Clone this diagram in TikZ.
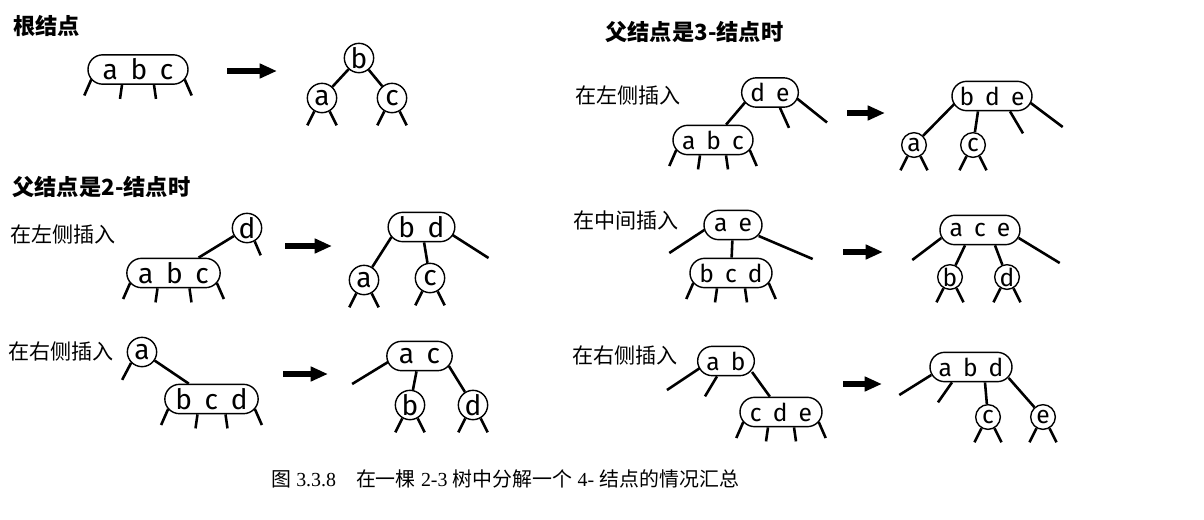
\documentclass[tikz,border=0pt]{standalone}
\usepackage{fontspec}
\setmainfont{Fira Sans}
\newfontfamily\cjk{Noto Sans CJK SC}
\newfontfamily\capserif{Liberation Serif}
\usepackage{tikz}
\usetikzlibrary{positioning, arrows.meta, calc}
\newcommand{\keysep}{\hspace{0.45em}}
\newcommand{\pilllegs}[2]{%
  \draw[treeedge] ($(#1.west)+(4,10)$) -- ++(-7,16);
  \draw[treeedge] ($(#1.south)+(-#2,0)$) -- ++(-2,14);
  \draw[treeedge] ($(#1.south)+(#2,0)$) -- ++(2,14);
  \draw[treeedge] ($(#1.east)+(-4,10)$) -- ++(7,16);
}
\newcommand{\circlegs}[1]{%
  \draw[treeedge] (#1.240) -- ++(-7,14);
  \draw[treeedge] (#1.300) -- ++(7,14);
}
\tikzset{
  keypill/.style={
    rectangle,
    draw,
    rounded corners=0.22cm,
    line width=0.6pt,
    minimum height=0.44cm,
    inner xsep=2pt,
    inner ysep=0pt,
    font=\fontsize{12}{13}\selectfont
  },
  keycircle/.style={
    circle,
    draw,
    line width=0.6pt,
    minimum size=0.44cm,
    inner sep=0pt,
    font=\fontsize{12}{13}\selectfont
  },
  treeedge/.style={
    line width=1.1pt
  },
  splitarrow/.style={
    line width=2.5pt,
    -{Triangle[length=0.26cm, width=0.21cm]}
  },
  caselabel/.style={
    anchor=west,
    inner sep=0pt,
    font=\cjk\fontsize{9}{10}\selectfont
  },
  grouptitle/.style={
    anchor=west,
    inner sep=0pt,
    font=\cjk\bfseries\fontsize{9.5}{10}\selectfont
  },
  figcaption/.style={
    inner sep=0pt,
    font=\fontsize{8.5}{10}\selectfont
  }
}

\begin{document}
\begin{tikzpicture}[x=0.015cm, y=-0.015cm]
  \useasboundingbox (0,0) rectangle (1204,519);

  \node[grouptitle] (roottitle) at (13,26) {根结点};
  \node[grouptitle] (twotitle) at (12,187) {父结点是2-结点时};
  \node[caselabel] (twoLlabel) at (10,234) {在左侧插入};
  \node[caselabel] (twoRlabel) at (8,351) {在右侧插入};
  \node[grouptitle] (threetitle) at (605,32) {父结点是3-结点时};
  \node[caselabel] (threeLlabel) at (575,95) {在左侧插入};
  \node[caselabel] (threeMlabel) at (573,220) {在中间插入};
  \node[caselabel] (threeRlabel) at (572,355) {在右侧插入};

  % root
  \node[keypill, minimum width=1.5cm] (root-abc) at (138,69.5) {a\keysep b\keysep c};
  \pilllegs{root-abc}{16}
  \coordinate (root-from) at (227,71);
  \coordinate (root-to) at (277,71);
  \draw[splitarrow] (root-from) -- (root-to);
  \node[keycircle] (root-b) at (359,58) {b};
  \node[keycircle] (root-a) at (322,98) {a};
  \node[keycircle] (root-c) at (392,98) {c};
  \draw[treeedge] (root-b) -- (root-a);
  \draw[treeedge] (root-b) -- (root-c);
  \circlegs{root-a}
  \circlegs{root-c}

  % 2-node parent, left
  \node[keycircle] (twoL-d) at (247,228) {d};
  \draw[treeedge] (twoL-d.300) -- ++(6,14);
  \node[keypill, minimum width=1.4cm] (twoL-abc) at (173.5,273) {a\keysep b\keysep c};
  \draw[treeedge] (twoL-d) -- (twoL-abc);
  \pilllegs{twoL-abc}{16}
  \coordinate (twoL-from) at (285,246);
  \coordinate (twoL-to) at (332,246);
  \draw[splitarrow] (twoL-from) -- (twoL-to);
  \node[keypill, minimum width=1cm] (twoL-bd) at (421.5,227) {b\keysep d};
  \node[keycircle] (twoL-a) at (364,280) {a};
  \node[keycircle] (twoL-c) at (430,278) {c};
  \draw[treeedge] ($(twoL-bd.west)+(4,10)$) -- (twoL-a);
  \draw[treeedge] (twoL-bd) -- (twoL-c);
  \draw[treeedge] ($(twoL-bd.east)+(-3,8)$) -- ++(36,23);
  \circlegs{twoL-a}
  \circlegs{twoL-c}

  % 2-node parent, right
  \node[keycircle] (twoR-a) at (142,352) {a};
  \draw[treeedge] (twoR-a.225) -- ++(-9,17);
  \node[keypill, minimum width=1.4cm] (twoR-bcd) at (211.5,399) {b\keysep c\keysep d};
  \draw[treeedge] (twoR-a) -- (twoR-bcd);
  \pilllegs{twoR-bcd}{14}
  \coordinate (twoR-from) at (283,374);
  \coordinate (twoR-to) at (328,374);
  \draw[splitarrow] (twoR-from) -- (twoR-to);
  \node[keypill, minimum width=0.98cm] (twoR-ac) at (419.5,356) {a\keysep c};
  \node[keycircle] (twoR-b) at (410,405) {b};
  \node[keycircle] (twoR-d) at (473,405) {d};
  \draw[treeedge] ($(twoR-ac.west)+(2,6)$) -- ++(-36,22);
  \draw[treeedge] (twoR-ac) -- (twoR-b);
  \draw[treeedge] ($(twoR-ac.east)+(-4,10)$) -- (twoR-d);
  \circlegs{twoR-b}
  \circlegs{twoR-d}

  \begin{scope}[
    keypill/.append style={font=\fontsize{10.5}{12}\selectfont},
    keycircle/.append style={minimum size=0.37cm, font=\fontsize{10.5}{12}\selectfont}
  ]
  % 3-node parent, left
  \node[keypill, minimum width=0.85cm] (threeL-de) at (770,92.5) {d\keysep e};
  \node[keypill, minimum width=1.2cm] (threeL-abc) at (713,140) {a\keysep b\keysep c};
  \draw[treeedge] ($(threeL-de.west)+(4,10)$) -- (threeL-abc);
  \draw[treeedge] ($(threeL-de.south)+(10,0)$) -- ++(9,20);
  \draw[treeedge] ($(threeL-de.east)+(-2,6)$) -- ++(30,24);
  \pilllegs{threeL-abc}{13}
  \coordinate (threeL-from) at (847,113);
  \coordinate (threeL-to) at (885,113);
  \draw[splitarrow] (threeL-from) -- (threeL-to);
  \node[keypill, minimum width=1.2cm] (threeL-bde) at (992,96) {b\keysep d\keysep e};
  \node[keycircle] (threeL-a) at (914,145) {a};
  \node[keycircle] (threeL-c) at (973,145) {c};
  \draw[treeedge] ($(threeL-bde.west)+(3,8)$) -- (threeL-a);
  \draw[treeedge] ($(threeL-bde.south)+(-14,0)$) -- (threeL-c);
  \draw[treeedge] ($(threeL-bde.south)+(18,0)$) -- ++(13,22);
  \draw[treeedge] ($(threeL-bde.east)+(-2,7)$) -- ++(32,24);
  \circlegs{threeL-a}
  \circlegs{threeL-c}

  % 3-node parent, middle
  \node[keypill, minimum width=0.87cm] (threeM-ae) at (733,225) {a\keysep e};
  \node[keypill, minimum width=1.23cm] (threeM-bcd) at (731,273) {b\keysep c\keysep d};
  \draw[treeedge] ($(threeM-ae.west)+(1,5)$) -- ++(-35,23);
  \draw[treeedge] (threeM-ae) -- (threeM-bcd);
  \draw[treeedge] ($(threeM-ae.east)+(-4,11)$) -- ++(54,23);
  \pilllegs{threeM-bcd}{14}
  \coordinate (threeM-from) at (843,252);
  \coordinate (threeM-to) at (883,252);
  \draw[splitarrow] (threeM-from) -- (threeM-to);
  \node[keypill, minimum width=1.2cm] (threeM-ace) at (980,230) {a\keysep c\keysep e};
  \node[keycircle] (threeM-b) at (950,277) {b};
  \node[keycircle] (threeM-d) at (1007,277) {d};
  \draw[treeedge] ($(threeM-ace.west)+(2,8)$) -- ++(-29,22);
  \draw[treeedge] ($(threeM-ace.south)+(-15,0)$) -- (threeM-b);
  \draw[treeedge] ($(threeM-ace.south)+(15,0)$) -- (threeM-d);
  \draw[treeedge] ($(threeM-ace.east)+(-2,8)$) -- ++(41,25);
  \circlegs{threeM-b}
  \circlegs{threeM-d}

  % 3-node parent, right
  \node[keypill, minimum width=0.85cm] (threeR-ab) at (726,361) {a\keysep b};
  \node[keypill, minimum width=1.23cm] (threeR-cde) at (781,412) {c\keysep d\keysep e};
  \draw[treeedge] ($(threeR-ab.west)+(3,7)$) -- ++(-33,22);
  \draw[treeedge] ($(threeR-ab.south)+(-9,0)$) -- ++(-12,20);
  \draw[treeedge] ($(threeR-ab.east)+(-3,11)$) -- (threeR-cde);
  \pilllegs{threeR-cde}{13}
  \coordinate (threeR-from) at (843,384);
  \coordinate (threeR-to) at (882,384);
  \draw[splitarrow] (threeR-from) -- (threeR-to);
  \node[keypill, minimum width=1.23cm] (threeR-abd) at (971,367) {a\keysep b\keysep d};
  \node[keycircle] (threeR-c) at (988,417) {c};
  \node[keycircle] (threeR-e) at (1043,417) {e};
  \draw[treeedge] ($(threeR-abd.west)+(2,8)$) -- ++(-32,20);
  \draw[treeedge] ($(threeR-abd.south)+(-19,0)$) -- ++(-14,20);
  \draw[treeedge] ($(threeR-abd.south)+(14,0)$) -- (threeR-c);
  \draw[treeedge] ($(threeR-abd.east)+(-4,11)$) -- (threeR-e);
  \circlegs{threeR-c}
  \circlegs{threeR-e}
  \end{scope}

  \node[figcaption] (caption) at (505,479)
    {{\cjk 图} {\capserif 3.3.8}\quad{\cjk 在一棵} {\capserif 2-3} {\cjk 树中分解一个} {\capserif 4-} {\cjk 结点的情况汇总}};
\end{tikzpicture}
\end{document}
